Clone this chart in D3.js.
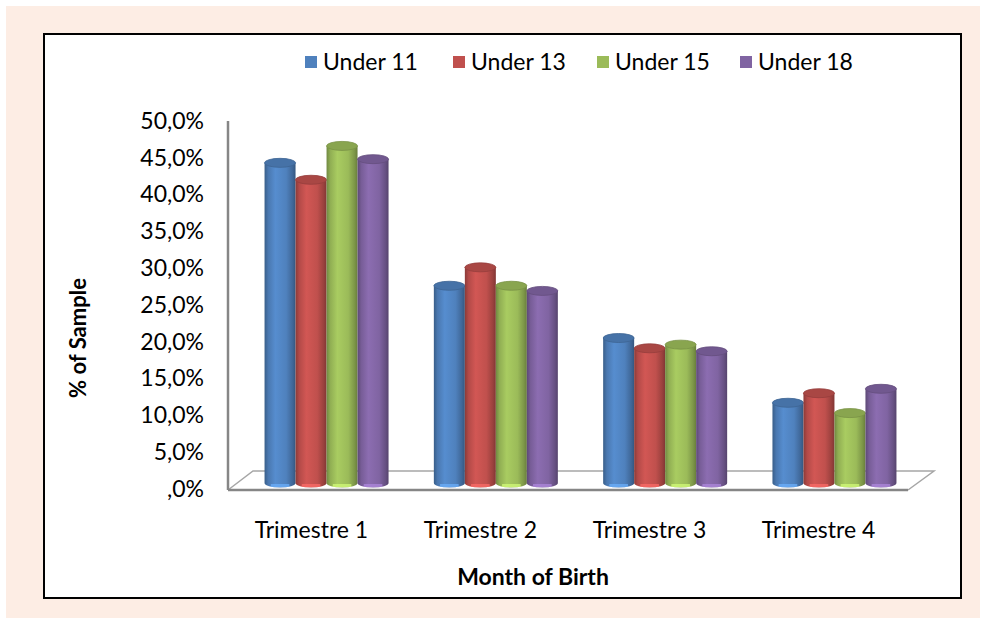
<!DOCTYPE html>
<html>
<head>
<meta charset="utf-8">
<script src="https://cdn.jsdelivr.net/npm/d3@7"></script>
<style>
  body { margin: 0; background: #fff; }
  text { font-family: Lato, "Open Sans", sans-serif; fill: #000; }
</style>
</head>
<body>
<div id="chart"></div>
<script>
var categories = ['Trimestre 1', 'Trimestre 2', 'Trimestre 3', 'Trimestre 4'];
var seriesNames = ['Under 11', 'Under 13', 'Under 15', 'Under 18'];
var under11 = [0.435, 0.268, 0.197, 0.109];
var under13 = [0.412, 0.293, 0.183, 0.122];
var under15 = [0.458, 0.268, 0.188, 0.095];
var under18 = [0.440, 0.261, 0.179, 0.128];
var yTicks = [0, 0.05, 0.1, 0.15, 0.2, 0.25, 0.3, 0.35, 0.4, 0.45, 0.5];
var colors = ['#4F81BD', '#C0504D', '#9BBB59', '#8064A2'];

var seriesValues = [under11, under13, under15, under18];

var W = 986, H = 625;

var svg = d3.select('#chart').append('svg')
    .attr('width', W)
    .attr('height', H);

// outer peach background and chart frame
svg.append('rect').attr('x', 6).attr('y', 6).attr('width', 974).attr('height', 612)
    .attr('fill', '#FDEDE4');
svg.append('rect').attr('x', 44).attr('y', 34).attr('width', 917).attr('height', 564)
    .attr('fill', '#fff').attr('stroke', '#000').attr('stroke-width', 2);

// scales: axis labels sit on the front, bars sit in the middle of the floor depth
var yAxisScale = d3.scaleLinear().domain([0, 0.5]).range([489, 121]);
var yBar = d3.scaleLinear().domain([0, 0.5]).range([483, 115]);

var x = d3.scaleBand().domain(categories).range([240, 921])
    .paddingInner(0.2676).paddingOuter(0.145);
var xFront = d3.scaleBand().domain(categories).range([228, 908])
    .paddingInner(0.2676).paddingOuter(0.145);
var xInner = d3.scaleBand().domain(seriesNames).range([0, x.bandwidth()]);

var defs = svg.append('defs');
colors.forEach(function(c, i) {
    var base = d3.color(c);
    var g = defs.append('linearGradient').attr('id', 'cyl' + i)
        .attr('x1', '0%').attr('x2', '100%').attr('y1', '0%').attr('y2', '0%');
    g.append('stop').attr('offset', '0%').attr('stop-color', base.darker(0.9));
    g.append('stop').attr('offset', '12%').attr('stop-color', base.darker(0.2));
    g.append('stop').attr('offset', '35%').attr('stop-color', base.brighter(0.25));
    g.append('stop').attr('offset', '70%').attr('stop-color', base);
    g.append('stop').attr('offset', '90%').attr('stop-color', base.darker(0.6));
    g.append('stop').attr('offset', '100%').attr('stop-color', base.darker(1.1));
});

// floor (3D base)
var floorFront = 490, floorBack = 471;
svg.append('path')
    .attr('d', 'M' + 228 + ',' + floorFront + ' L' + 253 + ',' + floorBack +
               ' L' + 934 + ',' + floorBack + ' L' + 908 + ',' + floorFront)
    .attr('fill', 'none').attr('stroke', '#a6a6a6').attr('stroke-width', 1.5);
svg.append('line')
    .attr('x1', 228).attr('x2', 908).attr('y1', floorFront).attr('y2', floorFront)
    .attr('stroke', '#868686').attr('stroke-width', 2.5);

// y axis
var yAxis = d3.axisLeft(yAxisScale)
    .tickValues(yTicks)
    .tickSize(0)
    .tickPadding(24)
    .tickFormat(function(d) {
        return d === 0 ? ',0%' : d3.format('.1f')(d * 100).replace('.', ',') + '%';
    });
var yg = svg.append('g').attr('transform', 'translate(228,0)').call(yAxis);
yg.select('.domain').attr('stroke', '#868686').attr('stroke-width', 2.5)
    .attr('d', 'M0,' + yAxisScale(0.5) + 'V' + floorFront);
yg.selectAll('text').style('font-size', '23px').style('font-family', 'Lato, sans-serif');

// cylinders
var ry = 4.5;
var bars = [];
categories.forEach(function(c, ci) {
    seriesNames.forEach(function(s, si) {
        bars.push({cat: c, series: s, si: si, value: seriesValues[si][ci]});
    });
});

var cyl = svg.append('g').selectAll('g.cyl')
    .data(bars)
    .enter()
    .append('g')
    .attr('class', 'cyl');

cyl.append('path')
    .attr('d', function(d) {
        var x0 = x(d.cat) + xInner(d.series);
        var w = xInner.bandwidth();
        var top = yBar(d.value), bot = yBar(0);
        return 'M' + x0 + ',' + top +
               ' L' + x0 + ',' + bot +
               ' A' + (w / 2) + ',' + ry + ' 0 0 0 ' + (x0 + w) + ',' + bot +
               ' L' + (x0 + w) + ',' + top + ' Z';
    })
    .attr('fill', function(d) { return 'url(#cyl' + d.si + ')'; });

// light reflection at the foot of each cylinder
cyl.append('rect')
    .attr('x', function(d) { return x(d.cat) + xInner(d.series) + xInner.bandwidth() * 0.2; })
    .attr('y', yBar(0) + 1)
    .attr('width', xInner.bandwidth() * 0.6)
    .attr('height', 3)
    .attr('fill', function(d) { return d3.color(colors[d.si]).brighter(0.9); })
    .attr('opacity', 0.7);

cyl.append('ellipse')
    .attr('cx', function(d) { return x(d.cat) + xInner(d.series) + xInner.bandwidth() / 2; })
    .attr('cy', function(d) { return yBar(d.value); })
    .attr('rx', xInner.bandwidth() / 2)
    .attr('ry', ry)
    .attr('fill', function(d) { return d3.color(colors[d.si]).darker(0.35); })
    .attr('stroke', function(d) { return d3.color(colors[d.si]).darker(0.7); })
    .attr('stroke-width', 0.8);

// x labels
svg.append('g').selectAll('text.xl')
    .data(categories)
    .enter()
    .append('text')
    .attr('x', function(d) { return xFront(d) + xFront.bandwidth() / 2 - 3; })
    .attr('y', 538)
    .attr('text-anchor', 'middle')
    .style('font-size', '23px')
    .text(function(d) { return d; });

// axis titles
svg.append('text')
    .attr('x', 533).attr('y', 585)
    .attr('text-anchor', 'middle')
    .style('font-size', '23px').style('font-weight', 'bold')
    .text('Month of Birth');

svg.append('text')
    .attr('transform', 'translate(86,338) rotate(-90)')
    .attr('text-anchor', 'middle')
    .style('font-size', '22px').style('font-weight', 'bold')
    .text('% of Sample');

// legend
var legendX = [305, 453, 597, 740];
var legend = svg.append('g').selectAll('g.lg')
    .data(seriesNames)
    .enter()
    .append('g')
    .attr('transform', function(d, i) { return 'translate(' + legendX[i] + ',56)'; });
legend.append('rect')
    .attr('width', 12).attr('height', 12)
    .attr('fill', function(d, i) { return colors[i]; });
legend.append('text')
    .attr('x', 18).attr('y', 14)
    .style('font-size', '23px')
    .text(function(d) { return d; });
</script>
</body>
</html>
